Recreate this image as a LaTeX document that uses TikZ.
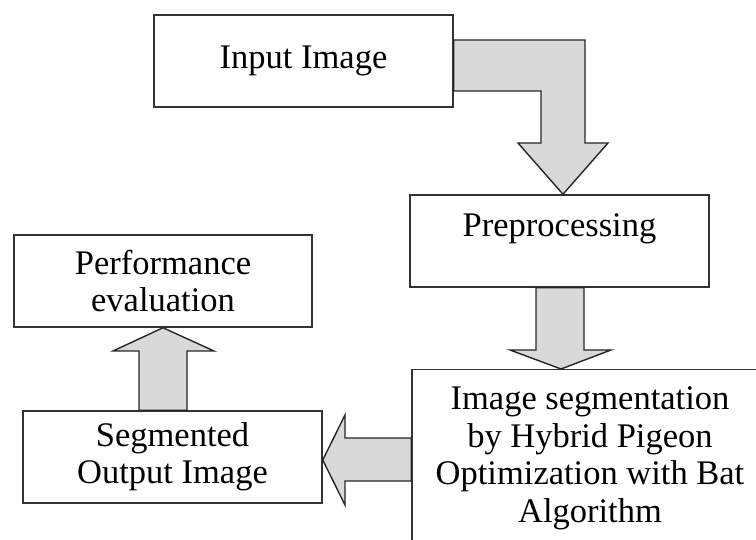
\documentclass[tikz,border=0pt]{standalone}
\usepackage{fontspec}
\setmainfont{Liberation Serif}

\tikzset{
  stagebox/.style={draw=black!80, line width=1.5pt, fill=white, align=center, inner sep=0pt,
    minimum width=299pt, minimum height=92pt, font=\fontsize{34.5}{37.5}\selectfont},
  blockarrow/.style={draw=black!85, line width=1.4pt, fill=black!15, line join=miter}
}

\begin{document}
\begin{tikzpicture}[x=1pt, y=-1pt]
  \useasboundingbox (0,0) rectangle (756,540);
  % stages
  \node[stagebox] (input) at (303.5,61) {Input Image};
  \node[stagebox, text depth=32pt] (prep) at (559.5,241) {Preprocessing};
  \node[stagebox, minimum width=356pt, minimum height=0pt, inner ysep=17pt, anchor=north] (hpoba) at (590,369)
    {Image segmentation\\by Hybrid Pigeon\\Optimization with Bat\\Algorithm};
  \node[stagebox] (segout) at (172.5,457) {Segmented\\Output Image};
  \node[stagebox, minimum width=298pt] (perf) at (163,281) {Performance\\evaluation};

  % block arrows
  \filldraw[blockarrow] (input.east |- 0,40) -- (585,40) -- (585,143) -- (608,143) -- (563,0 |- prep.north)
    -- (518,143) -- (541,143) -- (541,91) -- (input.east |- 0,91) -- cycle;
  \filldraw[blockarrow] (536,0 |- prep.south) -- (536,350) -- (510,350) -- (561,0 |- hpoba.north)
    -- (611,350) -- (584,350) -- (584,0 |- prep.south) -- cycle;
  \filldraw[blockarrow] (hpoba.west |- 0,438) -- (345,438) -- (345,415) -- (segout.east |- 0,460)
    -- (345,505) -- (345,481) -- (hpoba.west |- 0,481) -- cycle;
  \filldraw[blockarrow] (139,0 |- segout.north) -- (139,351) -- (113,351) -- (163,0 |- perf.south)
    -- (214,351) -- (187,351) -- (187,0 |- segout.north) -- cycle;
\end{tikzpicture}
\end{document}
